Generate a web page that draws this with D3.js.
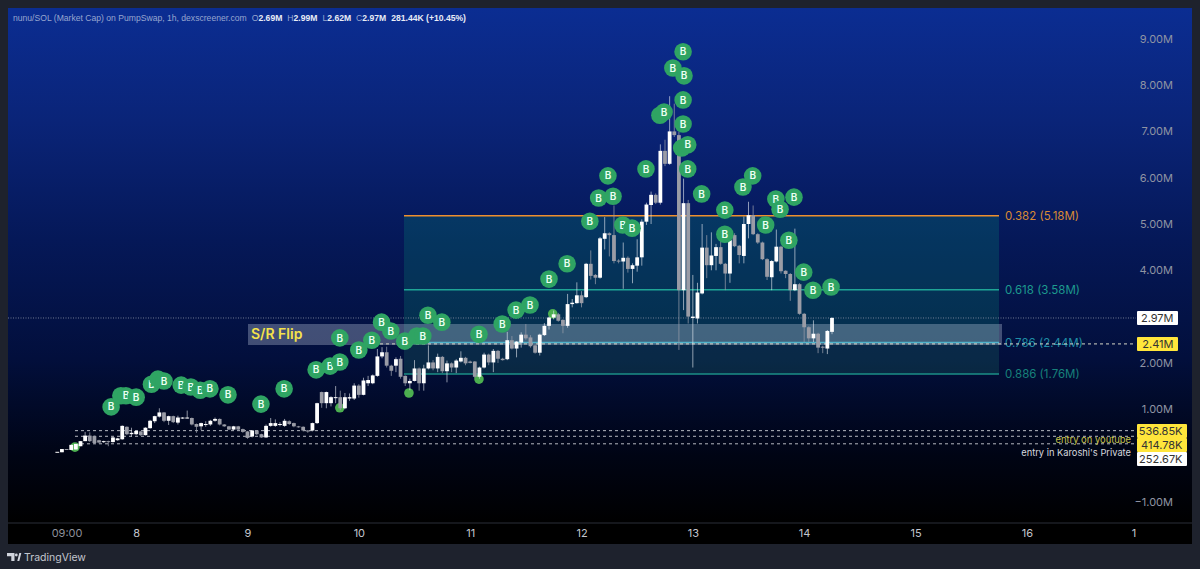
<!DOCTYPE html>
<html><head><meta charset="utf-8">
<style>html,body{margin:0;padding:0;background:#1e222d;overflow:hidden}svg{display:block}text{font-family:Inter,"Noto Sans",sans-serif}</style>
<script src="https://cdnjs.cloudflare.com/ajax/libs/d3/7.8.5/d3.min.js"></script>
</head><body><svg id="c" width="1200" height="569"></svg>
<script>
const opens=[.08,.07,.14,.12,.13,.20,.31,.43,.42,.33,.30,.31,.29,.33,.35,.62,.46,.46,.52,.44,.59,.74,.84,.93,.75,.85,.71,.80,.81,.81,
.68,.63,.67,.67,.75,.79,.67,.63,.56,.63,.57,.52,.41,.54,.46,.39,.64,.64,.66,.64,.74,.70,.63,.62,.54,.54,.70,1.37,1.13,1.13,
1.25,1.26,1.02,1.23,1.23,1.51,1.31,1.56,1.56,1.72,2.14,2.23,1.94,1.94,2.09,1.72,1.56,1.61,1.88,1.56,1.88,2.01,1.88,2.13,1.82,1.99,1.90,2.03,2.11,2.03,
2.03,1.70,1.90,2.18,2.01,2.26,2.09,2.08,2.49,2.31,2.44,2.61,2.55,2.38,2.22,2.60,2.80,2.98,3.05,2.93,2.80,3.27,3.29,3.46,3.42,4.14,3.90,3.84,4.68,4.80,
4.76,4.21,4.19,4.27,4.03,4.10,4.28,5.05,5.41,5.63,5.46,6.58,6.30,7.00,6.92,3.57,5.45,2.97,2.96,3.50,4.49,4.11,4.31,4.50,4.14,3.93,4.76,4.53,4.31,5.00,
5.19,4.78,4.60,4.24,3.85,4.19,4.51,3.99,3.92,3.57,3.70,3.06,2.77,2.53,2.63,2.35,2.31,2.67];
const closes=[.08,.14,.13,.23,.25,.31,.43,.31,.27,.28,.31,.30,.39,.37,.64,.46,.49,.53,.44,.60,.75,.85,.93,.75,.85,.72,.82,.82,.82,.67,
.62,.70,.68,.75,.79,.67,.63,.56,.63,.56,.51,.38,.54,.46,.39,.64,.70,.70,.68,.75,.68,.63,.62,.54,.53,.70,1.13,1.13,1.37,1.26,
1.26,1.02,1.26,1.26,1.51,1.31,1.62,1.63,1.73,2.14,2.23,1.94,1.83,2.08,1.70,1.56,1.61,1.88,1.56,1.88,2.01,1.88,2.13,1.82,1.99,1.90,2.05,2.11,1.99,2.00,
1.70,1.90,2.18,2.01,2.26,2.09,2.06,2.49,2.31,2.46,2.61,2.53,2.36,2.22,2.61,2.80,2.98,3.05,2.91,2.80,3.27,3.30,3.46,3.29,4.14,3.88,3.84,4.69,4.80,4.76,
4.20,4.19,4.27,4.03,4.11,4.28,5.05,5.42,5.63,5.46,6.58,6.30,7.00,6.92,3.57,5.45,3.00,3.00,3.52,4.49,4.11,4.32,4.50,4.14,3.93,4.65,4.52,4.33,5.00,5.19,
4.78,4.60,4.24,3.86,4.20,4.51,3.98,3.92,3.57,3.70,3.06,2.77,2.53,2.63,2.33,2.34,2.69,2.97];
const highs=[.08,.14,.14,.23,.25,.31,.51,.50,.43,.34,.32,.32,.40,.38,.65,.63,.60,.54,.53,.61,.77,.86,1.02,.94,.86,.86,.86,.83,.97,.82,
.69,.71,.74,.77,.82,.80,.68,.64,.64,.64,.58,.53,.55,.55,.47,.67,.81,.78,.72,.79,.76,.71,.64,.63,.55,.71,1.14,1.38,1.38,1.28,
1.50,1.40,1.35,1.34,1.56,1.54,1.68,1.72,1.75,2.30,2.34,2.35,1.96,2.12,2.15,1.73,1.66,2.06,1.90,1.96,2.38,2.06,2.20,2.15,2.05,2.01,2.08,2.25,2.13,2.05,
2.04,1.92,2.22,2.20,2.30,2.28,2.11,2.67,2.58,2.47,2.66,2.84,2.60,2.40,2.63,2.86,3.00,3.13,3.08,2.94,3.49,3.38,3.74,3.55,4.16,4.43,3.92,4.72,5.15,4.82,
5.40,4.24,4.60,4.30,4.15,4.67,5.10,5.46,5.70,5.66,6.72,6.82,7.76,7.60,7.00,5.98,5.52,3.90,3.73,5.00,4.76,4.82,4.57,4.64,4.16,4.70,4.80,4.55,5.16,5.48,
5.40,4.80,4.62,4.26,4.22,4.88,4.53,4.00,3.94,4.90,3.72,3.08,2.79,2.92,2.65,2.37,2.71,2.99];
const lows=[.08,.07,.13,.12,.13,.20,.31,.29,.25,.26,.27,.20,.28,.32,.34,.44,.41,.44,.42,.43,.58,.70,.82,.72,.66,.70,.67,.79,.80,.65,
.49,.55,.62,.64,.73,.65,.62,.55,.55,.53,.49,.36,.39,.44,.38,.38,.62,.62,.63,.62,.66,.61,.60,.52,.49,.52,.68,1.03,1.02,1.06,
1.13,.98,1.00,1.18,1.20,1.25,1.30,1.50,1.54,1.70,2.10,1.90,1.72,1.80,1.66,1.50,1.41,1.60,1.40,1.40,1.86,1.84,1.80,1.78,1.58,1.80,1.78,2.01,1.95,1.99,
1.68,1.66,1.88,1.95,1.80,2.00,2.05,2.06,2.29,2.12,2.33,2.50,2.33,2.20,2.16,2.58,2.72,2.94,2.89,2.64,2.76,3.20,3.28,3.20,3.40,3.80,3.70,3.82,4.45,4.30,
4.15,4.15,3.60,3.95,3.72,3.97,4.10,4.98,5.00,5.43,5.42,6.25,6.28,6.88,2.28,3.14,2.85,1.90,2.85,3.48,3.83,4.00,4.00,4.12,3.57,3.73,4.50,4.15,4.15,4.69,
4.76,4.57,4.22,3.79,3.57,4.17,3.93,3.83,3.34,3.55,3.04,2.45,2.45,2.45,2.21,2.21,2.19,2.62];

const buyHours=[11.6,13.7,14.8,17,20.3,21.7,23,26.7,28.8,30.8,32.9,36.8,43.9,48.9,55.8,58.8,60.9,60.9,65,67.8,69.9,71.9,74.9,77.5,78.8,79.9,82.9,90.9,95.9,98.9,101.9,106,109.9,114.8,116.7,118.7,119.8,121.9,123.9,126.9,129.9,130.8,132.7,134.9,135.1,134.9,134.9,134.6,135.9,135.9,138.9,143.9,143.9,147.8,149.9,154.9,155.8,158.8,152.7,157.7,160.9,162.9,166.8];
const buyCaps=[1.05,1.29,1.29,1.26,1.54,1.65,1.61,1.52,1.48,1.41,1.44,1.31,1.11,1.44,1.85,1.93,2.02,2.54,2.28,2.49,2.88,2.69,2.47,2.58,2.58,3.03,2.88,2.62,2.84,3.14,3.25,3.81,4.14,5.06,5.56,6.04,5.6,4.98,4.91,6.19,7.35,7.42,8.37,8.72,8.2,7.68,7.16,6.64,6.71,6.19,5.65,5.3,4.78,5.8,6.04,5.54,5.32,5.58,4.98,4.65,3.96,3.57,3.64];
const dotHours=[3.8,60.9,75.8,90.9,106.8];
const dotCaps=[.18,1.03,1.35,1.65,3.06];

const yTicks=[9,8,7,6,5,4,3,2,1,-1];
const xTickHours=[2,17,41,65,89,113,137,161,185,209,232];
const xTickLabels=["09:00","8","9","10","11","12","13","14","15","16","1"];
const fibLevels=[5.18,3.58,2.44,1.76];
const fibLabels=["0.382 (5.18M)","0.618 (3.58M)","0.786 (2.44M)","0.886 (1.76M)"];
const fibColors=["#ee8f2e","#1fa596","#4fb4cc","#1b8f87"];
const fibLabelColors=["#d98a34","#1d9a8e","#1f8ea6","#17817b"];
const titleParts=[["nunu/SOL (Market Cap) on PumpSwap, 1h, dexscreener.com",0,0],["O",0,5],["2.69M",1,0],["H",0,5],["2.99M",1,0],["L",0,5],["2.62M",1,0],["C",0,5],["2.97M",1,0],["281.44K (+10.45%)",1,5]];
const lastPrice=2.97, yellowPrice=2.41, entryPrices=[.53685,.41478,.25267];
const entryLabels=["536.85K","414.78K","252.67K"];

const svg=d3.select("#c");
const x=d3.scaleLinear().domain([0,167]).range([57.3,832]);
const y=d3.scaleLinear().domain([0,9]).range([455.5,38.8]);
const L=8,R=1192,T=8,B=523,AB=544;

const defs=svg.append("defs");
const g=defs.append("linearGradient").attr("id","bg").attr("x1",0).attr("x2",0).attr("y1",0).attr("y2",1);
[[0,"#0b2d92"],[.22,"#0a2478"],[.45,"#051858"],[.68,"#020f3c"],[.87,"#000414"],[1,"#000000"]].forEach(s=>g.append("stop").attr("offset",s[0]).attr("stop-color",s[1]));

svg.append("rect").attr("x",L).attr("y",T).attr("width",R-L).attr("height",B-T).attr("fill","url(#bg)");
svg.append("rect").attr("x",L).attr("y",B).attr("width",R-L).attr("height",AB-B).attr("fill","#000");
svg.append("line").attr("x1",L).attr("x2",R).attr("y1",B).attr("y2",B).attr("stroke","#2a2e39");

// fib zones
const fx0=404,fx1=999;
const zoneFill=["rgba(8,150,120,.23)","rgba(8,150,120,.23)","rgba(40,145,115,.2)"];
d3.range(3).forEach(i=>svg.append("rect").attr("x",fx0).attr("width",fx1-fx0).attr("y",y(fibLevels[i])).attr("height",y(fibLevels[i+1])-y(fibLevels[i])).attr("fill",zoneFill[i]));

// S/R flip zone
svg.append("rect").attr("x",248).attr("y",324).attr("width",754).attr("height",21).attr("fill","rgba(200,210,230,.32)");

// price lines
svg.append("line").attr("x1",L).attr("x2",1136).attr("y1",y(lastPrice)).attr("y2",y(lastPrice)).attr("stroke","#8d93a6").attr("stroke-width",.8).attr("stroke-dasharray","1 1.5");
entryPrices.forEach(p=>svg.append("line").attr("x1",75).attr("x2",1136).attr("y1",y(p)).attr("y2",y(p)).attr("stroke","#b5b8c0").attr("stroke-width",1).attr("stroke-dasharray","3 3"));

fibLevels.forEach((v,i)=>{
  svg.append("line").attr("x1",fx0).attr("x2",fx1).attr("y1",y(v)).attr("y2",y(v)).attr("stroke",fibColors[i]).attr("stroke-width",1.5);
  svg.append("text").attr("x",1005).attr("y",y(v)+4).attr("font-size",11.5).attr("fill",fibLabelColors[i]).text(fibLabels[i]);
});
svg.append("line").attr("x1",380).attr("x2",1136).attr("y1",y(yellowPrice)).attr("y2",y(yellowPrice)).attr("stroke","#d8d8c8").attr("stroke-width",1).attr("stroke-dasharray","3 3");

svg.append("text").attr("x",251).attr("y",339).attr("font-size",14).attr("font-weight",600).attr("fill","#f5e34a").text("S/R Flip");

// small markers sit under the candles
svg.append("g").selectAll("circle").data(dotHours).join("circle").attr("cx",d=>x(d)).attr("cy",(d,i)=>y(dotCaps[i])).attr("r",4.8).attr("fill","#4caf50");

// candles
const cg=svg.append("g");
const idx=d3.range(opens.length);
const up=i=>closes[i]>=opens[i];
cg.selectAll("line").data(idx).join("line").attr("x1",i=>x(i)).attr("x2",i=>x(i)).attr("y1",i=>y(highs[i])).attr("y2",i=>y(lows[i]))
  .attr("stroke",i=>up(i)?"rgba(235,238,245,.6)":"rgba(150,155,168,.75)").attr("stroke-width",1);
cg.selectAll("rect").data(idx).join("rect").attr("x",i=>x(i)-1.9).attr("width",3.8)
  .attr("y",i=>y(Math.max(opens[i],closes[i]))).attr("height",i=>Math.max(1,Math.abs(y(opens[i])-y(closes[i]))))
  .attr("fill",i=>up(i)?"#ffffff":"#9a9ca6");

// buy markers: a marker almost fully covered by a later one shows no letter
const covered=i=>buyHours.some((h,j)=>j>i&&Math.hypot(x(h)-x(buyHours[i]),y(buyCaps[j])-y(buyCaps[i]))<7);
const mg=svg.append("g").selectAll("g").data(buyHours).join("g").attr("transform",(d,i)=>`translate(${x(d)},${y(buyCaps[i])})`);
mg.append("circle").attr("r",8.8).attr("fill","#2fa463");
mg.filter((d,i)=>!covered(i)).append("text").attr("text-anchor","middle").attr("y",3.6).attr("font-size",10).attr("font-weight",600).attr("fill","#eafff2").text("B");

// title
const t=svg.append("text").attr("x",13).attr("y",21).attr("font-size",8.6).style("font-family","'Liberation Sans',Arial,sans-serif");
titleParts.forEach(p=>t.append("tspan").attr("dx",p[2]).attr("fill",p[1]?"#e8ecf6":"#97a6cf").attr("font-weight",p[1]?600:400).text(p[0]));

// axes
const yAxis=d3.axisRight(y).tickValues(yTicks).tickSize(0).tickPadding(0).tickFormat(d=>d3.format(".2f")(d)+"M");
const ya=svg.append("g").attr("transform","translate(1173,0)").call(yAxis);
ya.select(".domain").remove();
ya.selectAll("text").attr("x",0).attr("text-anchor","end").attr("fill","#8f94a3").attr("font-size",11).style("font-family","Inter,'Noto Sans',sans-serif");

const xAxis=d3.axisBottom(x).tickValues(xTickHours).tickSize(0).tickPadding(0).tickFormat((d,i)=>xTickLabels[i]);
const xa=svg.append("g").attr("transform","translate(0,529)").call(xAxis);
xa.select(".domain").remove();
xa.selectAll("text").attr("fill",(d,i)=>i?"#c3c6ce":"#8d909a").attr("font-size",11).style("font-family","Inter,'Noto Sans',sans-serif");

// price labels
function tag(x0,w,yc,fill,txt,color){
  svg.append("rect").attr("x",x0).attr("y",yc-7).attr("width",w).attr("height",14).attr("rx",1).attr("fill",fill);
  svg.append("text").attr("x",x0+w-4.5).attr("y",yc+4).attr("text-anchor","end").attr("font-size",11).attr("fill",color).text(txt);
}
tag(1137,41,318,"#ffffff","2.97M","#333");
tag(1137,41,344,"#ffe53b","2.41M","#333");
tag(1137,50,431,"#ffe53b",entryLabels[0],"#333");
tag(1137,50,445,"#ffe53b",entryLabels[1],"#333");
tag(1137,50,459,"#ffffff",entryLabels[2],"#333");
svg.append("text").attr("x",1131).attr("y",442.5).attr("text-anchor","end").attr("font-size",9.4).attr("fill","#c8c34a").text("entry on youtube");
svg.append("text").attr("x",1131).attr("y",455.5).attr("text-anchor","end").attr("font-size",9.3).attr("fill","#d6d8de").text("entry in Karoshi's Private");

// footer logo
svg.append("path").attr("d","M7 553h7.5v8h-3.2v-4.8H7z M17.3 561l2-8h2l-2 8z").attr("fill","#d1d4dc");
svg.append("circle").attr("cx",16.3).attr("cy",555).attr("r",1.4).attr("fill","#d1d4dc");
svg.append("text").attr("x",24).attr("y",561).attr("font-size",10.5).attr("fill","#c3c6ce").text("TradingView");
</script></body></html>
